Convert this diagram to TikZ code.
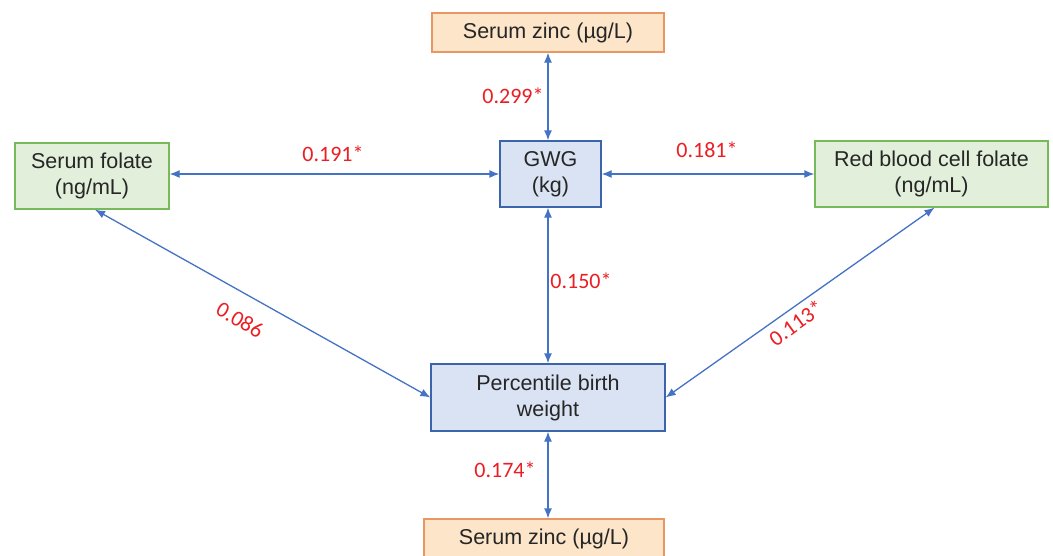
\documentclass[tikz,border=0pt]{standalone}
\usepackage{fontspec}
\setmainfont{Liberation Sans}
\newfontfamily\labelfont{Carlito}
\usetikzlibrary{arrows.meta,calc}
\definecolor{zincfill}{RGB}{252,229,200}
\definecolor{zincdraw}{RGB}{232,150,100}
\definecolor{folfill}{RGB}{226,239,218}
\definecolor{foldraw}{RGB}{120,185,90}
\definecolor{gwgfill}{RGB}{218,227,243}
\definecolor{gwgdraw}{RGB}{60,100,170}
\definecolor{linkblue}{RGB}{68,114,196}
\definecolor{coefred}{RGB}{235,30,35}
\tikzset{
  box/.style={draw, line width=1.3pt, align=center, inner sep=0pt,
    font=\fontsize{21.5}{26}\selectfont, text=black!85},
  zinc/.style={box, fill=zincfill, draw=zincdraw},
  fol/.style={box, fill=folfill, draw=foldraw},
  core/.style={box, fill=gwgfill, draw=gwgdraw},
  link/.style={draw=linkblue, line width=1.3pt,
    {Latex[length=10pt,width=8pt]}-{Latex[length=10pt,width=8pt]}},
  coef/.style={text=coefred, font=\labelfont\fontsize{22}{24}\selectfont, inner sep=0pt}
}
\begin{document}
\begin{tikzpicture}[x=1pt,y=-1pt]
\clip (0,0) rectangle (1053,555);
\useasboundingbox (0,0) rectangle (1053,555);
\fill[white] (0,0) rectangle (1053,555);

\node[zinc, minimum width=232pt, minimum height=39pt] (zinctop) at (548,32.5) {Serum zinc (µg/L)};
\node[fol, minimum width=154pt, minimum height=66pt] (folate) at (92,176) {Serum folate\\(ng/mL)};
\node[core, minimum width=101pt, minimum height=66pt] (gwg) at (550.5,174) {GWG\\(kg)};
\node[fol, minimum width=233pt, minimum height=66pt] (rbc) at (931.5,174) {Red blood cell folate\\(ng/mL)};
\node[core, minimum width=234pt, minimum height=67pt] (pbw) at (548,397.5) {Percentile birth\\weight};
\node[zinc, minimum width=240pt, minimum height=39pt] (zincbot) at (544,538.5) {Serum zinc (µg/L)};

\draw[link] (zinctop.south) -- (zinctop.south |- gwg.north);
\draw[link] (folate.east |- gwg.west) -- (gwg.west);
\draw[link] (gwg.east) -- (rbc.west);
\draw[link] (gwg.south -| pbw.north) -- (pbw.north);
\draw[link] ($(folate.south)+(3,0)$) -- (pbw.west);
\draw[link] ($(rbc.south)+(3,0)$) -- (pbw.east);
\draw[link] (pbw.south) -- (pbw.south |- zincbot.north);

\node[coef] (c1) at (513,96) {0.299*};
\node[coef] (c2) at (333,154) {0.191*};
\node[coef] (c3) at (707,150) {0.181*};
\node[coef] (c4) at (581,281) {0.150*};
\node[coef, rotate=-30] (c5) at (240,320) {0.086};
\node[coef, rotate=36] (c6) at (796,323) {0.113*};
\node[coef] (c7) at (505,470) {0.174*};
\end{tikzpicture}
\end{document}
